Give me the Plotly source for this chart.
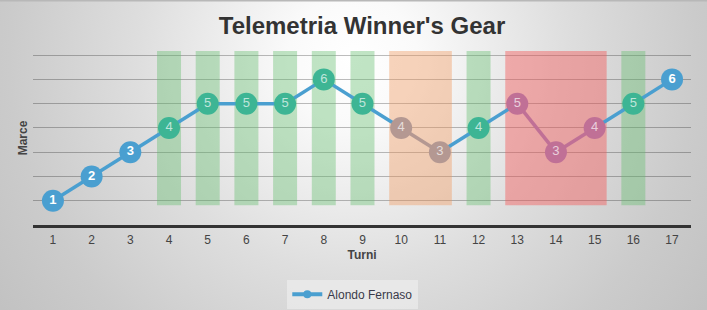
import plotly.graph_objects as go
import urllib.parse

turns = list(range(1, 18))
gears = [1, 2, 3, 4, 5, 5, 5, 6, 5, 4, 3, 4, 5, 3, 4, 5, 6]
status = ["none", "none", "none", "good", "good", "good", "good", "good", "good",
          "warn", "warn", "good", "bad", "bad", "bad", "good", "none"]
driver = "Alondo Fernaso"
title = "Telemetria Winner's Gear"
x_title = "Turni"
y_title = "Marce"

marker_col = {"none": "#4a9fd0", "good": "#3db594", "warn": "#b49892", "bad": "#c07096"}
band_col = {"good": "rgba(100,190,110,0.40)", "warn": "rgba(240,150,90,0.40)",
            "bad": "rgba(245,90,90,0.45)"}
line_col = "#4a9fd0"

W, H = 707, 310
ml, mr, mt, mb = 33, 16, 51, 85
pw, ph = W - ml - mr, H - mt - mb

fig = go.Figure()

# colored bands
shapes = []
half = 0.31
i = 0
n = len(turns)
while i < n:
    s = status[i]
    if s == "none":
        i += 1
        continue
    j = i
    if s != "good":
        while j + 1 < n and status[j + 1] == s:
            j += 1
    shapes.append(dict(type="rect", xref="x", yref="y", x0=turns[i] - half, x1=turns[j] + half,
                       y0=0.81, y1=7.3, fillcolor=band_col[s], line=dict(width=0), layer="between"))
    i = j + 1

# segments
for k in range(n - 1):
    s1, s2 = status[k], status[k + 1]
    c = marker_col[s1] if (s1 == s2 and s1 in ("warn", "bad")) else line_col
    fig.add_trace(go.Scatter(x=turns[k:k + 2], y=gears[k:k + 2], mode="lines",
                             line=dict(color=c, width=3.5), showlegend=False, hoverinfo="skip"))

texts = [("<b>%d</b>" % g) if s == "none" else str(g) for g, s in zip(gears, status)]
tcols = ["#ffffff" if s == "none" else "rgba(255,255,255,0.68)" for s in status]
fig.add_trace(go.Scatter(x=turns, y=gears, mode="markers+text", text=texts,
                         textposition="middle center",
                         textfont=dict(color=tcols, size=13, family="Liberation Sans, Arial"),
                         marker=dict(size=22, color=[marker_col[s] for s in status], line=dict(width=0)),
                         showlegend=False, cliponaxis=False))
fig.add_trace(go.Scatter(x=[None], y=[None], mode="lines+markers", name=driver,
                         line=dict(color=line_col, width=4), marker=dict(size=8, color=line_col)))

svg = ('<svg xmlns="http://www.w3.org/2000/svg" width="707" height="310" viewBox="0 0 707 310" preserveAspectRatio="none">'
       '<defs><radialGradient id="g" gradientUnits="userSpaceOnUse" cx="353" cy="60" r="430">'
       '<stop offset="0" stop-color="#ffffff"/><stop offset="0.15" stop-color="#fafafa"/>'
       '<stop offset="0.5" stop-color="#dedede"/><stop offset="0.8" stop-color="#cbcbcb"/>'
       '<stop offset="1" stop-color="#c2c2c2"/></radialGradient></defs>'
       '<rect width="707" height="310" fill="url(#g)"/>'
       '<rect x="0" y="0" width="707" height="1.5" fill="#b8b8b8"/></svg>')
src = "data:image/svg+xml;charset=utf-8," + urllib.parse.quote(svg)

fig.update_layout(
    width=W, height=H,
    margin=dict(l=ml, r=mr, t=mt, b=mb, autoexpand=False),
    paper_bgcolor="#e0e0e0", plot_bgcolor="rgba(0,0,0,0)",
    font=dict(family="Liberation Sans, Arial", color="#444"),
    title=dict(text="<b>%s</b>" % title, x=0.5, xanchor="center", y=0.918, yanchor="middle",
               xref="paper", font=dict(size=24, color="#333")),
    shapes=shapes,
    images=[dict(source=src, xref="paper", yref="paper", x=-ml / pw, y=1 + mt / ph,
                 sizex=W / pw, sizey=H / ph, xanchor="left", yanchor="top",
                 sizing="stretch", layer="below")],
    xaxis=dict(range=[0.485, 17.49], tickvals=turns, ticktext=[str(t) for t in turns],
               showgrid=False, zeroline=False, showline=True, linecolor="#333", linewidth=3,
               ticks="", ticklabelstandoff=2, tickfont=dict(size=12, color="#444"),
               title=dict(text="<b>%s</b>" % x_title, font=dict(size=12, color="#444"), standoff=5)),
    yaxis=dict(range=[0, 7.17], tickvals=[1, 2, 3, 4, 5, 6, 7], showticklabels=False,
               showgrid=True, gridcolor="rgba(0,0,0,0.26)", gridwidth=1, zeroline=False,
               showline=False, ticks="",
               title=dict(text="<b>%s</b>" % y_title, font=dict(size=12, color="#444"), standoff=1)),
    legend=dict(orientation="h", x=0.486, xanchor="center", y=-0.315, yanchor="top",
                bgcolor="rgba(240,240,240,0.6)", font=dict(size=12, color="#3a3a4a")),
    showlegend=True,
)
fig.update_xaxes(automargin=False)
fig.update_yaxes(automargin=False)

fig.write_html("out.html")
